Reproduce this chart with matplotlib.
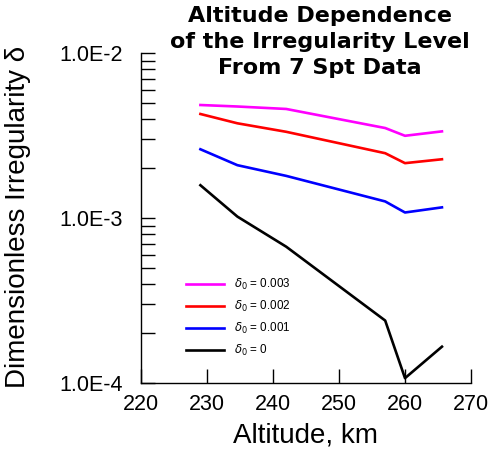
import matplotlib
matplotlib.use("Agg")
import matplotlib.pyplot as plt
from matplotlib.ticker import FixedLocator, LogLocator, NullFormatter, FixedFormatter

plt.rcParams['font.family'] = ['Liberation Sans', 'DejaVu Sans']

altitude = [229, 234.6, 242, 257, 260, 265.6]
d003 = [4.84e-3, 4.74e-3, 4.58e-3, 3.51e-3, 3.15e-3, 3.35e-3]
d002 = [4.27e-3, 3.75e-3, 3.33e-3, 2.47e-3, 2.15e-3, 2.27e-3]
d001 = [2.61e-3, 2.09e-3, 1.80e-3, 1.26e-3, 1.08e-3, 1.16e-3]
d000 = [1.58e-3, 1.02e-3, 6.7e-4, 2.39e-4, 1.07e-4, 1.66e-4]
labels = [r'$\delta_0$ = 0.003', r'$\delta_0$ = 0.002', r'$\delta_0$ = 0.001', r'$\delta_0$ = 0']
colors = ['#FF00FF', '#FF0000', '#0000FF', '#000000']
xticks = [220, 230, 240, 250, 260, 270]
yticks = [1e-4, 1e-3, 1e-2]
yticklabels = ['1.0E-4', '1.0E-3', '1.0E-2']

fig = plt.figure(figsize=(4.9, 4.5), dpi=100)
ax = fig.add_axes([0.2878, 0.1489, 0.6734, 0.7333])

for ys, c, lab in zip([d003, d002, d001, d000], colors, labels):
    ax.plot(altitude, ys, color=c, lw=1.9, label=lab)

ax.set_yscale('log')
ax.set_xlim(220, 270)
ax.set_ylim(1e-4, 1e-2)
ax.xaxis.set_major_locator(FixedLocator(xticks))
ax.yaxis.set_major_locator(FixedLocator(yticks))
ax.yaxis.set_major_formatter(FixedFormatter(yticklabels))
ax.yaxis.set_minor_locator(LogLocator(base=10, subs=range(2, 10)))
ax.yaxis.set_minor_formatter(NullFormatter())
ax.tick_params(axis='both', which='both', direction='in', length=10, width=1, labelsize=15.5)
ax.tick_params(axis='y', which='major', pad=13)
ax.tick_params(axis='x', pad=8)
for s in ['top', 'right']:
    ax.spines[s].set_visible(False)
for s in ['left', 'bottom']:
    ax.spines[s].set_linewidth(1)

fig.text(0.624, 1 - 442 / 450, 'Altitude, km', fontsize=20, ha='center', va='baseline')
fig.text(0.036, 0.518, 'Dimensionless Irregularity δ', rotation=90, fontsize=20,
         ha='center', va='center')

tkw = dict(fontsize=16, fontweight='bold', ha='center', va='baseline', family='DejaVu Sans')
fig.text(0.653, 1 - 22 / 450, 'Altitude Dependence', **tkw)
fig.text(0.653, 1 - 48 / 450, 'of the Irregularity Level', **tkw)
fig.text(0.653, 1 - 74 / 450, 'From 7 Spt Data', **tkw)

leg = ax.legend(loc='upper left', bbox_to_anchor=(0.136, 0.321), frameon=False, fontsize=8.4,
                handlelength=3.3, labelspacing=0.58, handletextpad=0.85,
                borderaxespad=0, borderpad=0)

fig.savefig('out.png', dpi=100)
